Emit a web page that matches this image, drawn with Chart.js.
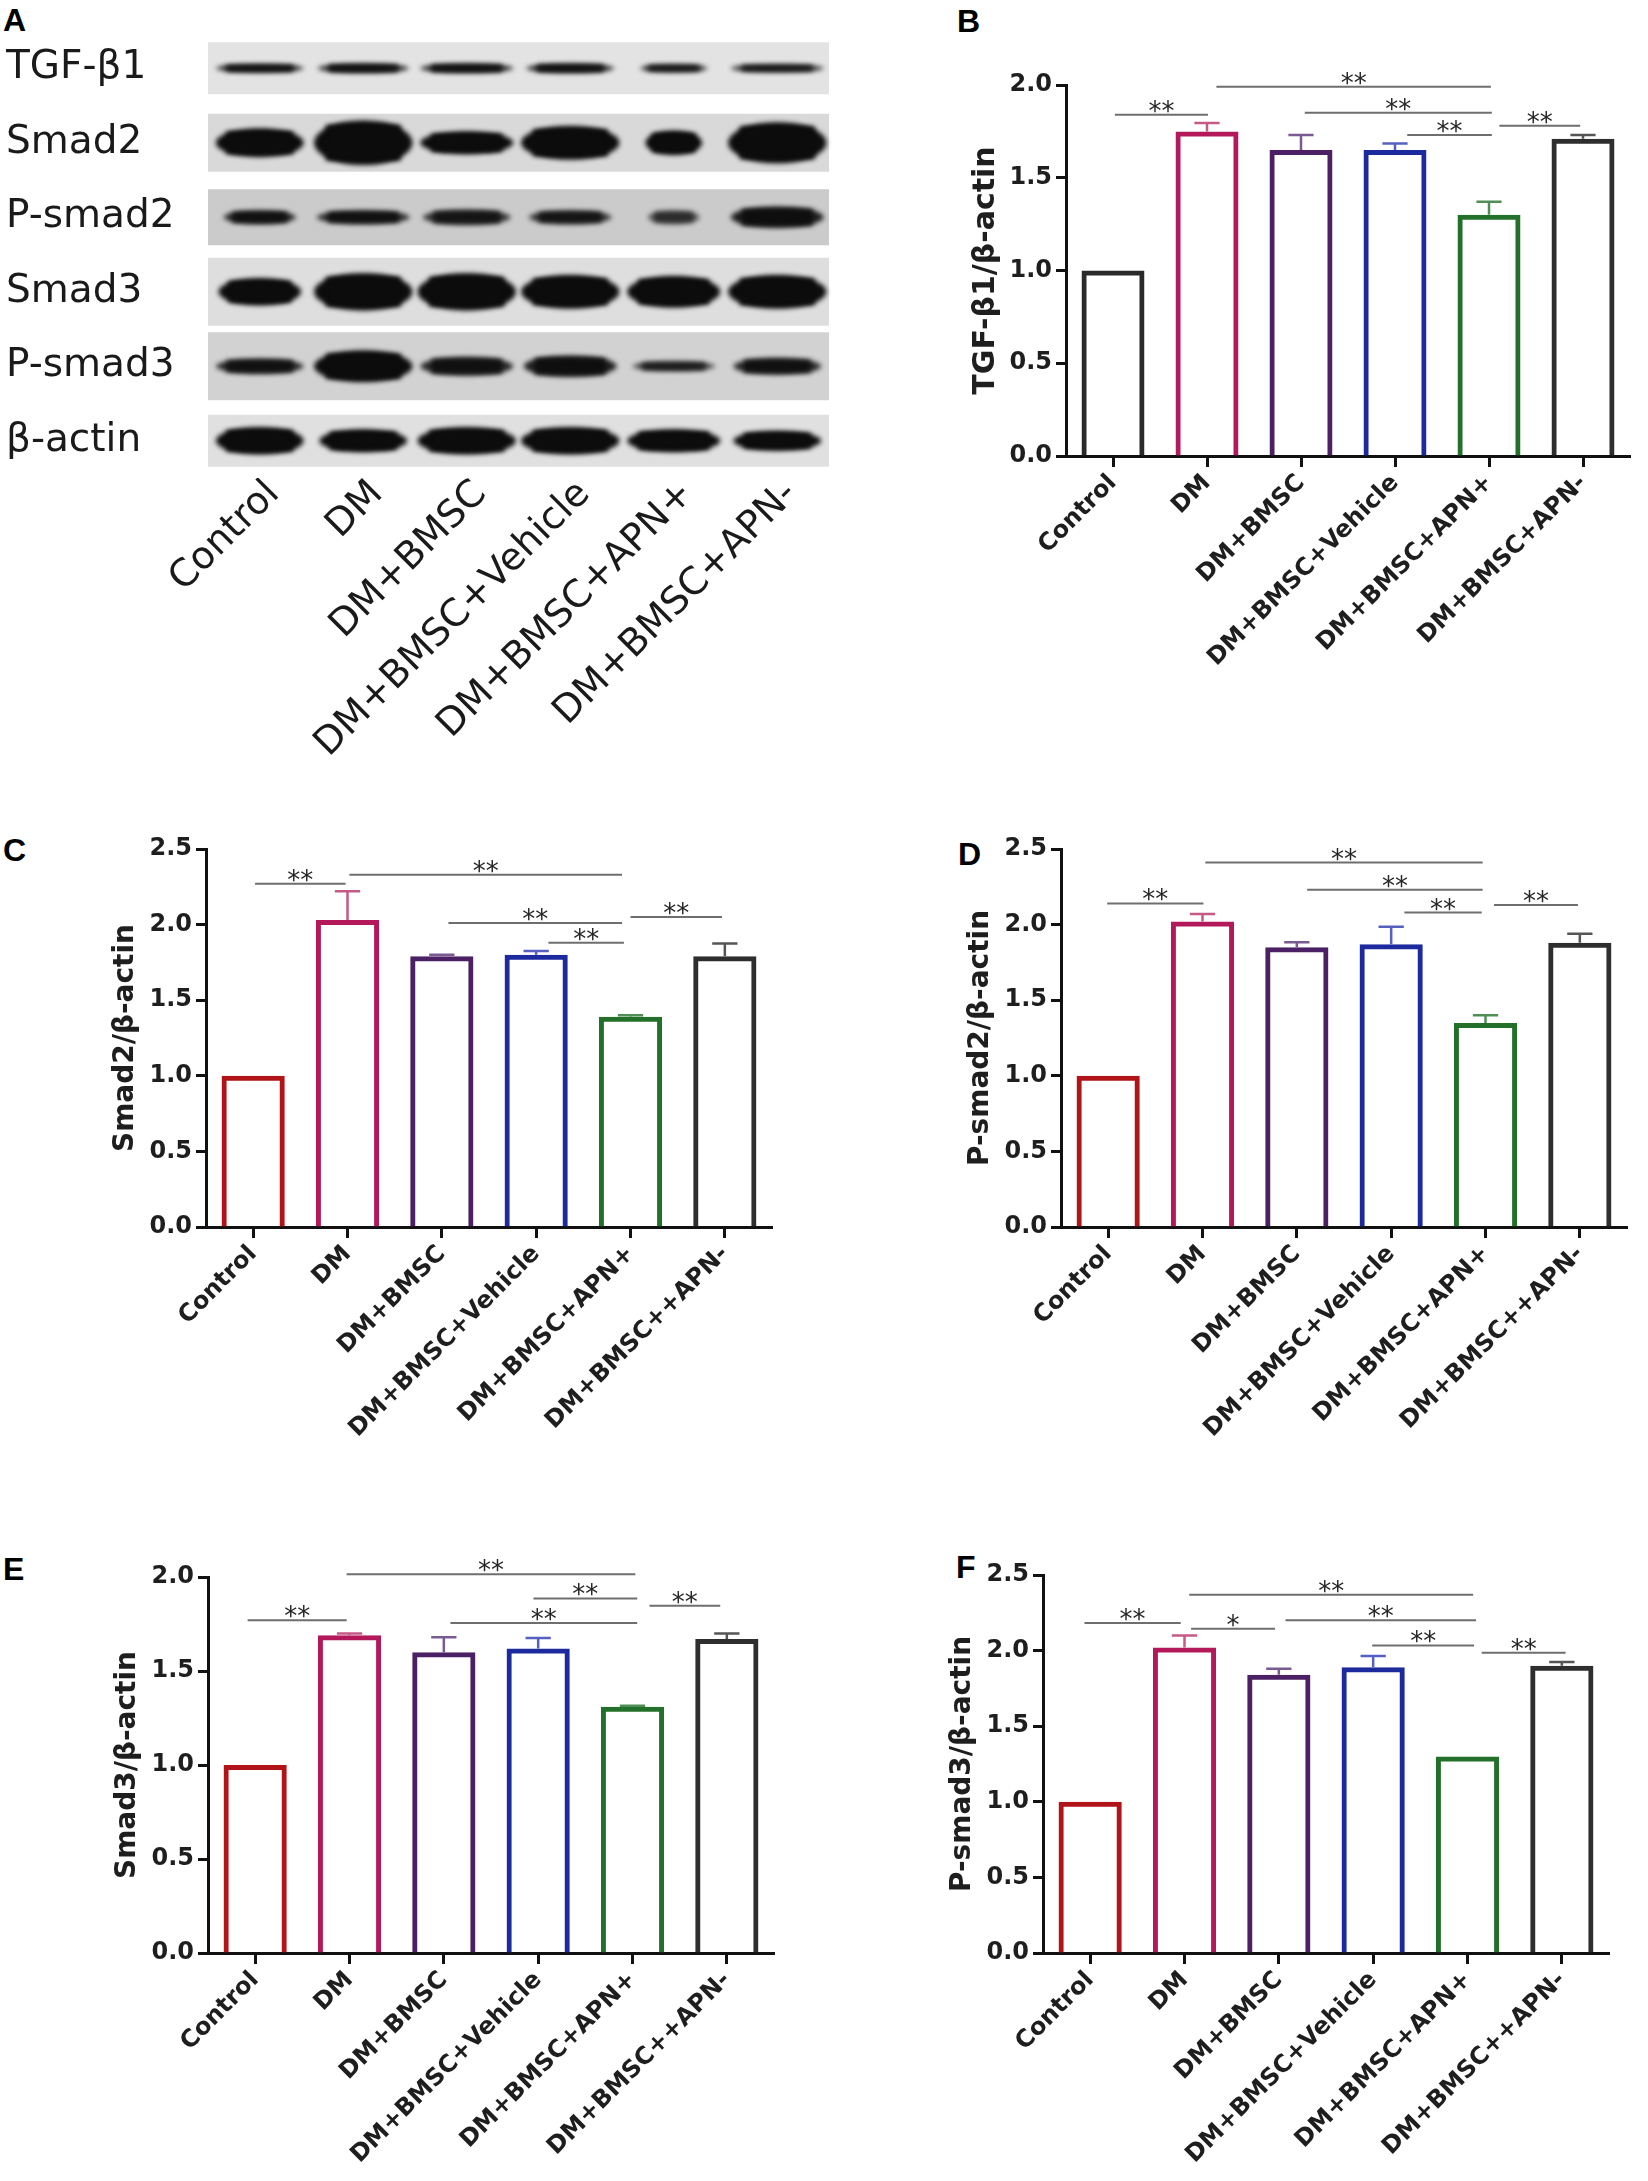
<!DOCTYPE html>
<html>
<head>
<meta charset="utf-8">
<script src="https://cdn.jsdelivr.net/npm/chart.js@4.4.1/dist/chart.umd.min.js"></script>
<style>
  body { margin: 0; background: #fff; width: 1648px; height: 2181px; position: relative; overflow: hidden; }
  canvas { position: absolute; }
  .tag { position: absolute; font: bold 32px "Liberation Sans", Arial, sans-serif; line-height: 1; color: #000; }
</style>
</head>
<body>
<div class="tag" style="left:3px;top:4px">A</div>
<div class="tag" style="left:957px;top:5px">B</div>
<div class="tag" style="left:3px;top:834px">C</div>
<div class="tag" style="left:958px;top:838px">D</div>
<div class="tag" style="left:3px;top:1553px">E</div>
<div class="tag" style="left:956px;top:1551px">F</div>

<canvas id="blot"></canvas>
<canvas id="chartB"></canvas>
<canvas id="chartC"></canvas>
<canvas id="chartD"></canvas>
<canvas id="chartE"></canvas>
<canvas id="chartF"></canvas>

<script>
'use strict';

// ---- data ----
const lanes = ['Control', 'DM', 'DM+BMSC', 'DM+BMSC+Vehicle', 'DM+BMSC+APN+', 'DM+BMSC+APN-'];
const groupsB = ['Control', 'DM', 'DM+BMSC', 'DM+BMSC+Vehicle', 'DM+BMSC+APN+', 'DM+BMSC+APN-'];
const groups = ['Control', 'DM', 'DM+BMSC', 'DM+BMSC+Vehicle', 'DM+BMSC+APN+', 'DM+BMSC++APN-'];
const proteins = ['TGF-β1', 'Smad2', 'P-smad2', 'Smad3', 'P-smad3', 'β-actin'];

// band signal seen on the blot (relative spread and thickness of each band)
const bandSpread = [
  [0.85, 0.88, 0.9, 0.85, 0.65, 0.9],
  [0.85, 0.95, 0.9, 0.95, 0.55, 0.95],
  [0.7, 0.9, 0.85, 0.8, 0.5, 0.9],
  [0.8, 0.95, 0.95, 0.95, 0.9, 0.95],
  [0.85, 0.95, 0.9, 0.9, 0.8, 0.85],
  [0.85, 0.85, 0.95, 0.95, 0.9, 0.85]
];
const bandThick = [
  [0.11, 0.12, 0.12, 0.12, 0.1, 0.1],
  [0.38, 0.6, 0.3, 0.45, 0.32, 0.55],
  [0.18, 0.18, 0.2, 0.18, 0.18, 0.28],
  [0.36, 0.5, 0.5, 0.45, 0.42, 0.45],
  [0.2, 0.42, 0.25, 0.28, 0.13, 0.22],
  [0.36, 0.3, 0.36, 0.36, 0.3, 0.26]
];
const bandDark = [
  [0.9, 0.9, 0.9, 0.9, 0.85, 0.85],
  [1, 1, 1, 1, 1, 1],
  [0.85, 0.85, 0.8, 0.8, 0.6, 0.9],
  [1, 1, 1, 1, 1, 1],
  [0.85, 1, 0.85, 0.9, 0.75, 0.85],
  [1, 1, 1, 1, 1, 1]
];

const tgfMean = [1.00, 1.75, 1.65, 1.65, 1.30, 1.71];
const tgfSem = [0, 0.045, 0.08, 0.035, 0.07, 0.02];
const smad2Mean = [1.00, 2.03, 1.79, 1.80, 1.39, 1.79];
const smad2Sem = [0, 0.19, 0.01, 0.025, 0.01, 0.085];
const psmad2Mean = [1.00, 2.02, 1.85, 1.87, 1.35, 1.88];
const psmad2Sem = [0, 0.05, 0.033, 0.115, 0.05, 0.06];
const smad3Mean = [1.00, 1.69, 1.60, 1.62, 1.31, 1.67];
const smad3Sem = [0, 0.01, 0.08, 0.055, 0.005, 0.03];
const psmad3Mean = [1.00, 2.02, 1.84, 1.89, 1.30, 1.90];
const psmad3Sem = [0, 0.08, 0.04, 0.075, 0, 0.025];

// significance bars: [from group, to group, height, mark]
const tgfSig = [[0.02, 1.01, 1.84, '**'], [1.1, 4.02, 1.99, '**'], [2.04, 4.03, 1.85, '**'], [3.13, 4.03, 1.73, '**'], [4.11, 4.97, 1.78, '**']];
const smad2Sig = [[0.02, 0.98, 2.27, '**'], [1.02, 3.91, 2.33, '**'], [2.07, 3.91, 2.01, '**'], [3.13, 3.93, 1.88, '**'], [4.0, 4.97, 2.05, '**']];
const psmad2Sig = [[-0.01, 1.01, 2.14, '**'], [1.03, 3.97, 2.41, '**'], [2.11, 3.97, 2.23, '**'], [3.14, 3.96, 2.08, '**'], [4.09, 4.98, 2.13, '**']];
const smad3Sig = [[-0.08, 0.97, 1.77, '**'], [0.97, 4.03, 2.015, '**'], [2.95, 4.05, 1.886, '**'], [2.07, 4.05, 1.755, '**'], [4.18, 4.93, 1.847, '**']];
const psmad3Sig = [[-0.06, 0.96, 2.183, '**'], [1.07, 1.96, 2.144, '*'], [1.05, 4.06, 2.37, '**'], [2.07, 4.09, 2.20, '**'], [2.99, 4.07, 2.034, '**'], [4.15, 5.04, 1.985, '**']];

// ---- colours ----
const colorsB = ['#2a2a2a', '#b3185a', '#4b2065', '#1c2a9e', '#22702a', '#2e2e2e'];
const colors = ['#b01318', '#b3185a', '#4b2065', '#1c2a9e', '#22702a', '#2e2e2e'];
const errColors = ['#555555', '#c55a86', '#7a5a92', '#5560c0', '#4f8f55', '#555555'];
const stripShade = ['#e3e3e3', '#d9d9d9', '#cbcbcb', '#dedede', '#d2d2d2', '#e0e0e0'];
const stripSize = [0.70, 0.78, 0.75, 0.91, 0.91, 0.70];

const FONT = 'DejaVu Sans';

// ---- panel A : western blot ----
const bandPlugin = {
  id: 'bands',
  afterDatasetsDraw(chart) {
    const ctx = chart.ctx, x = chart.scales.x, y = chart.scales.y;
    const laneW = x.getPixelForValue(1) - x.getPixelForValue(0);
    const rowH = y.getPixelForValue(1) - y.getPixelForValue(0);
    ctx.save();
    ctx.filter = 'blur(2.5px)';
    proteins.forEach((p, r) => {
      lanes.forEach((l, i) => {
        const cx = x.getPixelForValue(i), cy = y.getPixelForValue(r);
        const w = bandSpread[r][i] * laneW, h = bandThick[r][i] * rowH;
        ctx.fillStyle = 'rgba(12,12,12,' + bandDark[r][i] + ')';
        ctx.beginPath();
        ctx.ellipse(cx, cy, w / 2, h / 2, 0, 0, Math.PI * 2);
        ctx.fill();
        ctx.fillRect(cx - w * 0.38, cy - h * 0.4, w * 0.76, h * 0.8);
      });
    });
    ctx.restore();
  }
};

(function drawBlot() {
  const cv = document.getElementById('blot');
  cv.width = 845; cv.height = 800;
  cv.style.left = '0px'; cv.style.top = '0px';
  const datasets = proteins.map((p, r) => ({
    data: proteins.map((q, k) => (k === r ? [-0.5, 5.5] : null)),
    backgroundColor: stripShade[r],
    borderWidth: 0,
    barPercentage: stripSize[r],
    categoryPercentage: 1,
    grouped: false
  }));
  new Chart(cv, {
    type: 'bar',
    data: { labels: proteins, datasets: datasets },
    options: {
      indexAxis: 'y',
      responsive: false, animation: false, devicePixelRatio: 1,
      layout: { padding: { left: 6, top: 31, right: 16, bottom: 0 } },
      plugins: { legend: { display: false }, tooltip: { enabled: false } },
      scales: {
        y: {
          type: 'category',
          grid: { display: false }, border: { display: false },
          ticks: { crossAlign: 'far', color: '#1a1a1a', font: { family: FONT, size: 39 } },
          afterFit: s => { s.width = 202; }
        },
        x: {
          type: 'linear', min: -0.5, max: 5.5,
          grid: { display: false, drawTicks: false }, border: { display: false },
          afterBuildTicks: s => { s.ticks = lanes.map((l, i) => ({ value: i })); },
          ticks: {
            autoSkip: false, maxRotation: 45, minRotation: 45, padding: -6, labelOffset: 14,
            color: '#1a1a1a', font: { family: FONT, size: 38 },
            callback: v => lanes[Math.round(v)]
          },
          afterFit: s => { s.height = 322; }
        }
      }
    },
    plugins: [bandPlugin]
  });
})();

// ---- bar panels B-F ----
const errPlugin = {
  id: 'err',
  afterDatasetsDraw(chart) {
    const ctx = chart.ctx, y = chart.scales.y;
    const ds = chart.data.datasets[0];
    chart.getDatasetMeta(0).data.forEach((bar, i) => {
      const e = ds.sem[i];
      if (!e) return;
      const top = y.getPixelForValue(ds.data[i] + e);
      const half = bar.width * 0.2;
      ctx.save();
      ctx.strokeStyle = errColors[i];
      ctx.lineWidth = 2.5;
      ctx.beginPath();
      ctx.moveTo(bar.x, bar.y);
      ctx.lineTo(bar.x, top);
      ctx.moveTo(bar.x - half, top);
      ctx.lineTo(bar.x + half, top);
      ctx.stroke();
      ctx.restore();
    });
  }
};

function sigPlugin(marks) {
  return {
    id: 'sig',
    afterDraw(chart) {
      const ctx = chart.ctx, x = chart.scales.x, y = chart.scales.y;
      const x0 = x.getPixelForValue(0);
      const step = x.getPixelForValue(1) - x0;
      ctx.save();
      marks.forEach(([a, b, v, txt]) => {
        const x1 = x0 + a * step, x2 = x0 + b * step, yy = y.getPixelForValue(v);
        ctx.strokeStyle = '#6e6e6e';
        ctx.lineWidth = 2;
        ctx.beginPath();
        ctx.moveTo(x1, yy);
        ctx.lineTo(x2, yy);
        ctx.stroke();
        ctx.fillStyle = '#262626';
        ctx.font = '26px "' + FONT + '"';
        ctx.textAlign = 'center';
        ctx.textBaseline = 'alphabetic';
        ctx.fillText(txt, (x1 + x2) / 2, yy + 5);
      });
      ctx.restore();
    }
  };
}

function barPanel(id, cfg) {
  const cv = document.getElementById(id);
  const yW = 112, xH = 270, padTop = 50, padRight = 12;
  cv.width = yW + cfg.plotW + padRight;
  cv.height = padTop + cfg.plotH + xH;
  cv.style.left = (cfg.axisX - yW) + 'px';
  cv.style.top = (cfg.top - padTop) + 'px';
  new Chart(cv, {
    type: 'bar',
    data: {
      labels: cfg.labels,
      datasets: [{
        data: cfg.mean, sem: cfg.sem,
        borderColor: cfg.colors, backgroundColor: 'rgba(255,255,255,0)',
        borderWidth: 5, barPercentage: 0.67, categoryPercentage: 1
      }]
    },
    options: {
      responsive: false, animation: false, devicePixelRatio: 1,
      layout: { padding: { top: padTop, right: padRight, left: 0, bottom: 0 } },
      plugins: { legend: { display: false }, tooltip: { enabled: false } },
      scales: {
        x: {
          grid: { offset: false, drawOnChartArea: false, tickLength: 11, tickWidth: 3, tickColor: '#111' },
          border: { width: 3, color: '#111' },
          ticks: {
            autoSkip: false, maxRotation: 45, minRotation: 45, padding: 2,
            color: '#1e1e1e', font: { family: FONT, weight: 'bold', size: 24 }
          },
          afterFit: s => { s.height = xH; }
        },
        y: {
          min: 0, max: cfg.max,
          grid: { drawOnChartArea: false, tickLength: 10, tickWidth: 3, tickColor: '#111' },
          border: { width: 3, color: '#111' },
          ticks: {
            stepSize: 0.5, padding: 4, color: '#1e1e1e',
            font: { family: FONT, weight: 'bold', size: 24 },
            callback: v => v.toFixed(1)
          },
          title: {
            display: true, text: cfg.title, color: '#1e1e1e',
            font: { family: FONT, weight: 'bold', size: cfg.titleSize },
            padding: { top: yW - 80 - cfg.titleSize * 0.6, bottom: 0 }
          },
          afterFit: s => { s.width = yW; }
        }
      }
    },
    plugins: [errPlugin, sigPlugin(cfg.sig)]
  });
}

barPanel('chartB', { axisX: 1066, top: 85, plotW: 564, plotH: 371, max: 2.0, labels: groupsB, mean: tgfMean, sem: tgfSem, colors: colorsB, sig: tgfSig, title: 'TGF-β1/β-actin', titleSize: 30 });
barPanel('chartC', { axisX: 206, top: 849, plotW: 566, plotH: 378, max: 2.5, labels: groups, mean: smad2Mean, sem: smad2Sem, colors: colors, sig: smad2Sig, title: 'Smad2/β-actin', titleSize: 28 });
barPanel('chartD', { axisX: 1061, top: 849, plotW: 566, plotH: 378, max: 2.5, labels: groups, mean: psmad2Mean, sem: psmad2Sem, colors: colors, sig: psmad2Sig, title: 'P-smad2/β-actin', titleSize: 28 });
barPanel('chartE', { axisX: 208, top: 1577, plotW: 566, plotH: 376, max: 2.0, labels: groups, mean: smad3Mean, sem: smad3Sem, colors: colors, sig: smad3Sig, title: 'Smad3/β-actin', titleSize: 28 });
barPanel('chartF', { axisX: 1043, top: 1575, plotW: 566, plotH: 378, max: 2.5, labels: groups, mean: psmad3Mean, sem: psmad3Sem, colors: colors, sig: psmad3Sig, title: 'P-smad3/β-actin', titleSize: 28 });
</script>
</body>
</html>
